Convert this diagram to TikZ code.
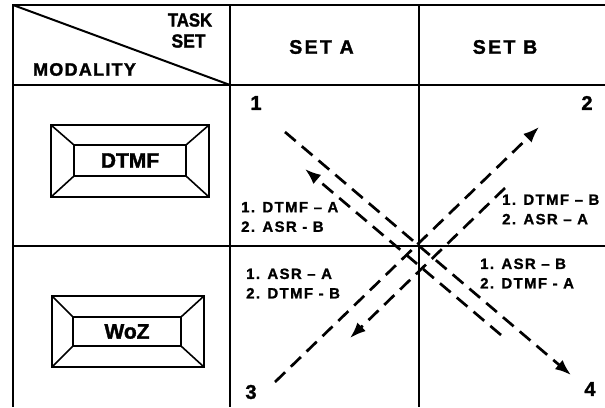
\documentclass[tikz,border=0pt]{standalone}
\usepackage{fontspec}
\setmainfont{Liberation Sans}[BoldFeatures={FakeBold=1.6}]
\newfontfamily\hdrfont{Liberation Sans}[LetterSpace=12,BoldFeatures={FakeBold=1.6}]
\newfontfamily\modfont{Liberation Sans}[LetterSpace=7,BoldFeatures={FakeBold=1.6}]
\newfontfamily\lblfont{Liberation Sans}[LetterSpace=9,BoldFeatures={FakeBold=1.0}]
\usetikzlibrary{arrows.meta}

\begin{document}
\begin{tikzpicture}[x=1pt,y=-1pt,
  grid/.style={line width=2pt},
  flow/.style={line width=2.7pt, dash pattern=on 14pt off 8pt,
    -{Latex[length=16pt,width=12pt]}},
  head/.style={inner sep=0pt, font=\hdrfont\bfseries\fontsize{19.5}{20}\selectfont},
  corner/.style={inner sep=0pt, font=\bfseries\fontsize{20}{20}\selectfont},
  order/.style={inner sep=0pt, anchor=west, align=left,
    font=\lblfont\bfseries\fontsize{15}{19.5}\selectfont},
  btnout/.style={draw, line width=2.4pt, outer sep=0pt, inner sep=0pt},
  btnin/.style={draw, line width=2pt, outer sep=0pt, inner sep=0pt,
    font=\bfseries\fontsize{21}{21}\selectfont},
  bevel/.style={line width=1.6pt}]

\useasboundingbox (0,0) rectangle (605,407);

% table rules
\draw[grid] (605,5) -- (13,5) -- (13,407);
\draw[grid] (13,85) -- (605,85);
\draw[grid] (13,246) -- (605,246);
\draw[grid] (230,5) -- (230,407);
\draw[grid] (419,5) -- (419,407);
\draw[grid] (13,5) -- (230,85);

% header cells
\node[head, font=\bfseries\fontsize{19}{19}\selectfont] (task) at (190,20) {\scalebox{0.88}[1]{TASK}};
\node[head, font=\bfseries\fontsize{19}{19}\selectfont] (set) at (188.5,41) {\scalebox{0.92}[1]{SET}};
\node[head, font=\modfont\bfseries\fontsize{18}{18}\selectfont] (modality) at (84.5,69.5) {MODALITY};
\node[head] (seta) at (321.5,47) {SET A};
\node[head] (setb) at (505,47) {SET B};

% modality buttons
\node[btnout, minimum width=158pt, minimum height=72pt] (dtmfout) at (130,161) {};
\node[btnin, minimum width=112pt, minimum height=31pt] (dtmf) at (130,160.5) {DTMF};
\draw[bevel] (dtmfout.north west) -- (dtmf.north west);
\draw[bevel] (dtmfout.north east) -- (dtmf.north east);
\draw[bevel] (dtmfout.south west) -- (dtmf.south west);
\draw[bevel] (dtmfout.south east) -- (dtmf.south east);

\node[btnout, minimum width=152pt, minimum height=71pt] (wozout) at (128,331.5) {};
\node[btnin, minimum width=108pt, minimum height=29pt] (woz) at (127,331.5) {WoZ};
\draw[bevel] (wozout.north west) -- (woz.north west);
\draw[bevel] (wozout.north east) -- (woz.north east);
\draw[bevel] (wozout.south west) -- (woz.south west);
\draw[bevel] (wozout.south east) -- (woz.south east);

% corner numbers
\node[corner] (n1) at (256,103) {1};
\node[corner] (n2) at (587,103) {2};
\node[corner] (n3) at (251,392) {3};
\node[corner] (n4) at (590,389) {4};

% task orders
\node[order] (ul) at (241,217) {1. DTMF \textendash{} A\\2. ASR - B};
\node[order] (ur) at (502,209.5) {1. DTMF \textendash{} B\\2. ASR \textendash{} A};
\node[order] (ll) at (246,283.5) {1. ASR \textendash{} A\\2. DTMF - B};
\node[order] (lr) at (480,273.5) {1. ASR \textendash{} B\\2. DTMF - A};

% crossing routes
\coordinate (a1s) at (285,132);
\coordinate (a1e) at (571,375);
\coordinate (a2s) at (501,335);
\coordinate (a2e) at (305,169);
\coordinate (a3s) at (275,382);
\coordinate (a3e) at (539,127);
\coordinate (a4s) at (505,188);
\coordinate (a4e) at (350,338);

\draw[flow] (a1s) -- (a1e);
\draw[flow] (a2s) -- (a2e);
\draw[flow] (a3s) -- (a3e);
\draw[flow] (a4s) -- (a4e);
\end{tikzpicture}
\end{document}
